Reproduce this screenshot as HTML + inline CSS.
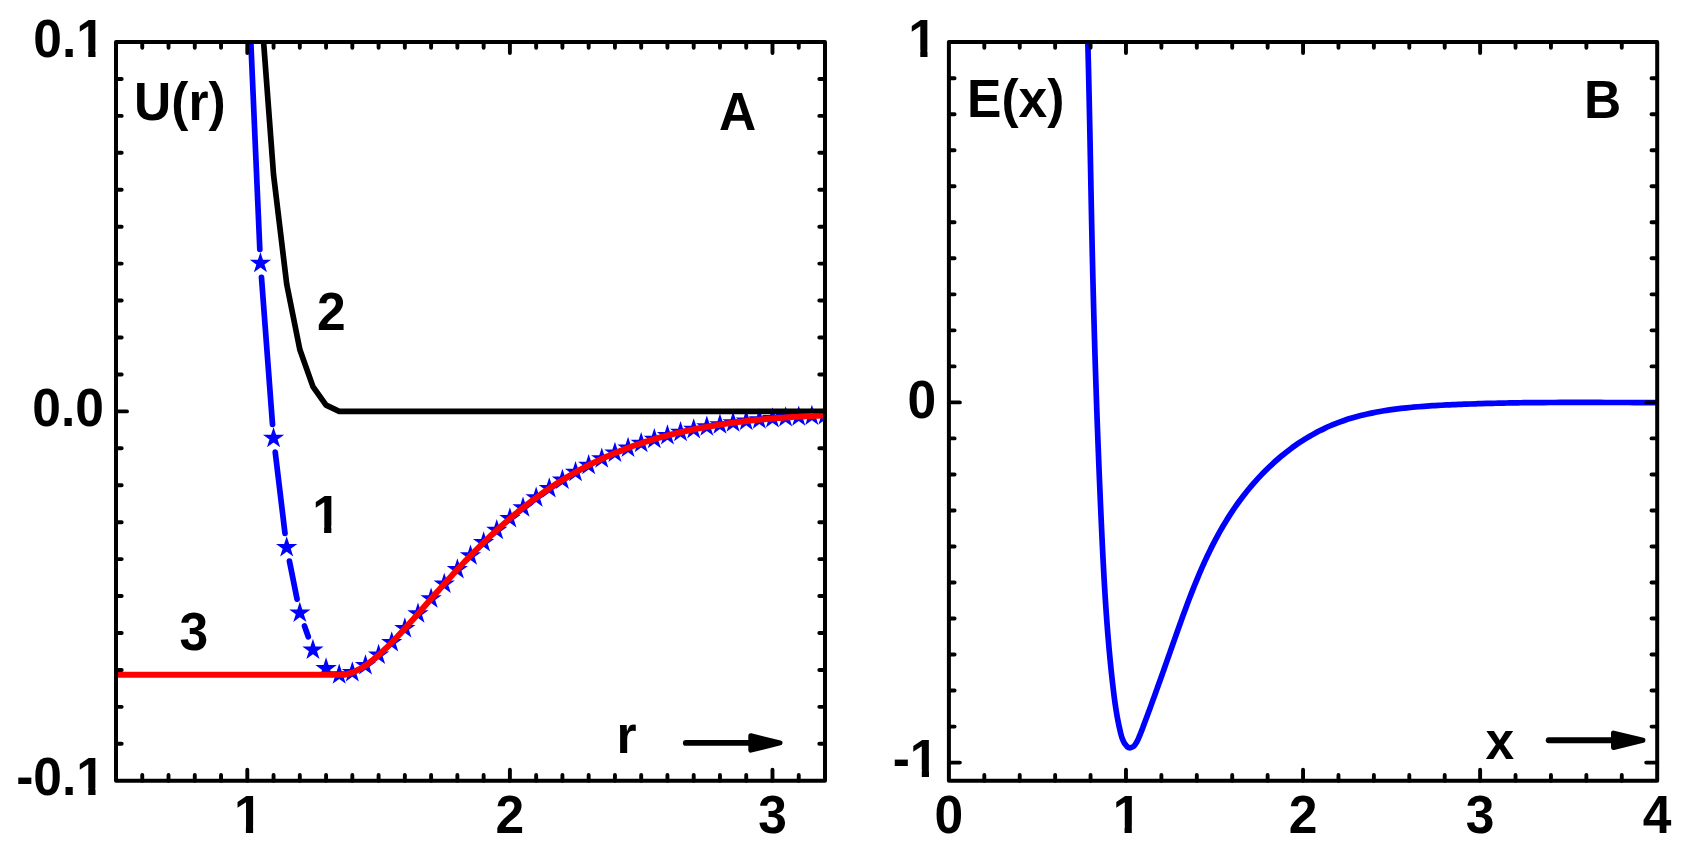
<!DOCTYPE html>
<html lang="en"><head><meta charset="utf-8"><title>U(r) and E(x)</title>
<style>html,body{margin:0;padding:0;background:#fff}body{width:1688px;height:852px;overflow:hidden}svg{display:block}</style>
</head><body>
<svg width="1688" height="852" viewBox="0 0 1688 852">
<defs>
<clipPath id="ca"><rect x="116.0" y="42.0" width="709.0" height="738.75"/></clipPath>
<clipPath id="cb"><rect x="948.9" y="42.0" width="708.3000000000001" height="738.75"/></clipPath>
</defs>
<rect width="1688" height="852" fill="#fff"/>
<g clip-path="url(#ca)">
<path d="M247.9 -26.01L259.82 249.3M261.47 277.25L272.51 424.31M275.23 452.17L285.01 533.47M289.44 561.09L297.06 599.13M304.49 626.06L308.27 636.76" fill="none" stroke="#0000ff" stroke-width="5.7" stroke-linecap="round"/>
<path d="M260.43 252.09L262.94 259.82L271.08 259.82L264.49 264.61L267.01 272.35L260.43 267.56L253.84 272.35L256.36 264.61L249.77 259.82L257.91 259.82ZM273.56 427.07L276.07 434.81L284.21 434.81L277.62 439.6L280.14 447.33L273.56 442.55L266.97 447.33L269.49 439.6L262.9 434.81L271.04 434.81ZM286.69 536.17L289.2 543.9L297.34 543.9L290.75 548.69L293.27 556.43L286.69 551.64L280.1 556.43L282.62 548.69L276.03 543.9L284.17 543.9ZM299.81 601.66L302.33 609.4L310.47 609.4L303.88 614.18L306.4 621.92L299.81 617.14L293.23 621.92L295.75 614.18L289.16 609.4L297.3 609.4ZM312.94 638.76L315.46 646.5L323.6 646.5L317.01 651.28L319.53 659.02L312.94 654.24L306.36 659.02L308.88 651.28L302.29 646.5L310.43 646.5ZM326.07 657.36L328.59 665.1L336.73 665.1L330.14 669.88L332.66 677.62L326.07 672.84L319.49 677.62L322.01 669.88L315.42 665.1L323.56 665.1ZM339.2 663.56L341.72 671.3L349.86 671.3L343.27 676.08L345.79 683.82L339.2 679.04L332.62 683.82L335.13 676.08L328.55 671.3L336.69 671.3ZM352.33 661.31L354.85 669.05L362.99 669.05L356.4 673.83L358.92 681.57L352.33 676.79L345.75 681.57L348.26 673.83L341.68 669.05L349.82 669.05ZM365.46 654.18L367.98 661.92L376.11 661.92L369.53 666.7L372.05 674.44L365.46 669.66L358.88 674.44L361.39 666.7L354.81 661.92L362.95 661.92ZM378.59 643.84L381.11 651.58L389.24 651.58L382.66 656.36L385.18 664.1L378.59 659.32L372.01 664.1L374.52 656.36L367.94 651.58L376.08 651.58ZM391.72 631.27L394.24 639.01L402.37 639.01L395.79 643.79L398.31 651.53L391.72 646.75L385.14 651.53L387.65 643.79L381.07 639.01L389.21 639.01ZM404.85 617.3L407.37 625.03L415.5 625.04L408.92 629.82L411.44 637.56L404.85 632.77L398.27 637.56L400.78 629.82L394.2 625.04L402.34 625.03ZM417.98 602.56L420.5 610.3L428.63 610.3L422.05 615.08L424.56 622.82L417.98 618.04L411.4 622.82L413.91 615.08L407.33 610.3L415.47 610.3ZM431.11 587.56L433.63 595.3L441.76 595.3L435.18 600.08L437.69 607.82L431.11 603.04L424.53 607.82L427.04 600.08L420.46 595.3L428.6 595.3ZM444.24 572.7L446.76 580.44L454.89 580.44L448.31 585.22L450.82 592.96L444.24 588.18L437.66 592.96L440.17 585.22L433.59 580.44L441.73 580.44ZM457.37 558.26L459.89 566L468.02 566L461.44 570.78L463.95 578.52L457.37 573.74L450.79 578.52L453.3 570.78L446.72 566L454.86 566ZM470.5 544.43L473.01 552.17L481.15 552.17L474.57 556.96L477.08 564.7L470.5 559.91L463.92 564.7L466.43 556.96L459.85 552.17L467.99 552.17ZM483.63 531.32L486.14 539.06L494.28 539.06L487.7 543.84L490.21 551.58L483.63 546.8L477.05 551.58L479.56 543.84L472.98 539.06L481.11 539.06ZM496.76 518.95L499.27 526.69L507.41 526.69L500.83 531.47L503.34 539.21L496.76 534.43L490.18 539.21L492.69 531.47L486.11 526.69L494.24 526.69ZM509.89 507.35L512.4 515.08L520.54 515.08L513.96 519.87L516.47 527.61L509.89 522.82L503.31 527.61L505.82 519.87L499.24 515.08L507.37 515.08ZM523.02 496.52L525.53 504.26L533.67 504.26L527.09 509.05L529.6 516.79L523.02 512L516.44 516.79L518.95 509.05L512.37 504.26L520.5 504.26ZM536.15 486.49L538.66 494.23L546.8 494.23L540.22 499.01L542.73 506.75L536.15 501.97L529.56 506.75L532.08 499.01L525.5 494.23L533.63 494.23ZM549.28 477.23L551.79 484.97L559.93 484.97L553.35 489.75L555.86 497.49L549.28 492.71L542.69 497.49L545.21 489.75L538.63 484.97L546.76 484.97ZM562.41 468.74L564.92 476.48L573.06 476.48L566.48 481.27L568.99 489.01L562.41 484.22L555.82 489.01L558.34 481.27L551.76 476.48L559.89 476.48ZM575.54 461L578.05 468.74L586.19 468.74L579.61 473.52L582.12 481.26L575.54 476.48L568.95 481.26L571.47 473.52L564.89 468.74L573.02 468.74ZM588.67 453.96L591.18 461.7L599.32 461.7L592.74 466.49L595.25 474.22L588.67 469.44L582.08 474.22L584.6 466.49L578.01 461.7L586.15 461.7ZM601.8 447.6L604.31 455.34L612.45 455.34L605.87 460.12L608.38 467.86L601.8 463.07L595.21 467.86L597.73 460.12L591.14 455.34L599.28 455.34ZM614.93 441.85L617.44 449.59L625.58 449.59L618.99 454.37L621.51 462.11L614.93 457.33L608.34 462.11L610.86 454.37L604.27 449.59L612.41 449.59ZM628.06 436.69L630.57 444.43L638.71 444.43L632.12 449.21L634.64 456.95L628.06 452.17L621.47 456.95L623.99 449.21L617.4 444.43L625.54 444.43ZM641.19 432.06L643.7 439.8L651.84 439.8L645.25 444.58L647.77 452.32L641.19 447.54L634.6 452.32L637.12 444.58L630.53 439.8L638.67 439.8ZM654.31 427.93L656.83 435.66L664.97 435.66L658.38 440.45L660.9 448.19L654.31 443.4L647.73 448.19L650.25 440.45L643.66 435.66L651.8 435.66ZM667.44 424.25L669.96 431.99L678.1 431.99L671.51 436.77L674.03 444.51L667.44 439.73L660.86 444.51L663.38 436.77L656.79 431.99L664.93 431.99ZM680.57 421L683.09 428.73L691.23 428.73L684.64 433.52L687.16 441.26L680.57 436.47L673.99 441.26L676.51 433.52L669.92 428.73L678.06 428.73ZM693.7 418.13L696.22 425.87L704.36 425.87L697.77 430.65L700.29 438.39L693.7 433.6L687.12 438.39L689.63 430.65L683.05 425.87L691.19 425.87ZM706.83 415.61L709.35 423.35L717.49 423.35L710.9 428.13L713.42 435.87L706.83 431.09L700.25 435.87L702.76 428.13L696.18 423.35L704.32 423.35ZM719.96 413.41L722.48 421.15L730.61 421.15L724.03 425.94L726.55 433.67L719.96 428.89L713.38 433.67L715.89 425.94L709.31 421.15L717.45 421.15ZM733.09 411.51L735.61 419.25L743.74 419.25L737.16 424.03L739.68 431.77L733.09 426.99L726.51 431.77L729.02 424.03L722.44 419.25L730.58 419.25ZM746.22 409.87L748.74 417.61L756.87 417.61L750.29 422.39L752.81 430.13L746.22 425.35L739.64 430.13L742.15 422.39L735.57 417.61L743.71 417.61ZM759.35 408.47L761.87 416.21L770 416.21L763.42 420.99L765.94 428.73L759.35 423.94L752.77 428.73L755.28 420.99L748.7 416.21L756.84 416.21ZM772.48 407.28L775 415.02L783.13 415.02L776.55 419.8L779.06 427.54L772.48 422.76L765.9 427.54L768.41 419.8L761.83 415.02L769.97 415.02ZM785.61 406.28L788.13 414.02L796.26 414.02L789.68 418.8L792.19 426.54L785.61 421.76L779.03 426.54L781.54 418.8L774.96 414.02L783.1 414.02ZM798.74 405.46L801.26 413.19L809.39 413.19L802.81 417.98L805.32 425.72L798.74 420.93L792.16 425.72L794.67 417.98L788.09 413.19L796.23 413.19ZM811.87 404.78L814.39 412.52L822.52 412.52L815.94 417.3L818.45 425.04L811.87 420.26L805.29 425.04L807.8 417.3L801.22 412.52L809.36 412.52ZM825 404.25L827.51 411.98L835.65 411.98L829.07 416.77L831.58 424.51L825 419.72L818.42 424.51L820.93 416.77L814.35 411.98L822.49 411.98Z" fill="#0000ff"/>
<path d="M247.3 -303.38 L260.43 -0.1 L273.56 174.89 L286.69 283.98 L299.81 349.48 L312.94 386.58 L326.07 405.18 L339.2 411.38 L825 411.38" fill="none" stroke="#000" stroke-width="5.7" stroke-linejoin="round"/>
<path d="M116 674.8C151.01 674.8 290.51 674.8 326.07 674.8C361.63 674.8 328.26 674.8 329.36 674.8C330.45 674.8 331.54 674.8 332.64 674.8C333.73 674.8 334.83 674.8 335.92 674.8C337.02 674.8 338.11 674.8 339.2 674.8C340.3 674.8 341.39 674.84 342.49 674.8C343.58 674.76 344.67 674.73 345.77 674.55C346.86 674.36 347.96 674.03 349.05 673.7C350.15 673.36 351.24 672.98 352.33 672.55C353.43 672.12 354.52 671.65 355.62 671.13C356.71 670.62 357.8 670.06 358.9 669.46C359.99 668.86 361.09 668.22 362.18 667.55C363.27 666.88 364.37 666.17 365.46 665.42C366.56 664.68 367.65 663.9 368.75 663.1C369.84 662.29 370.93 661.45 372.03 660.59C373.12 659.72 374.22 658.83 375.31 657.91C376.4 656.99 377.5 656.04 378.59 655.08C379.69 654.11 380.78 653.12 381.87 652.11C382.97 651.1 384.06 650.07 385.16 649.02C386.25 647.97 387.35 646.9 388.44 645.81C389.53 644.73 390.63 643.62 391.72 642.51C392.82 641.39 393.91 640.26 395 639.12C396.1 637.98 397.19 636.82 398.29 635.65C399.38 634.49 400.48 633.31 401.57 632.12C402.66 630.94 403.76 629.74 404.85 628.54C405.95 627.33 407.04 626.12 408.13 624.9C409.23 623.68 410.32 622.46 411.42 621.23C412.51 620 413.6 618.76 414.7 617.53C415.79 616.29 416.89 615.04 417.98 613.8C419.08 612.55 420.17 611.31 421.26 610.06C422.36 608.81 423.45 607.56 424.55 606.31C425.64 605.05 426.73 603.8 427.83 602.55C428.92 601.3 430.02 600.05 431.11 598.8C432.21 597.55 433.3 596.3 434.39 595.06C435.49 593.81 436.58 592.57 437.68 591.33C438.77 590.09 439.86 588.85 440.96 587.62C442.05 586.39 443.15 585.16 444.24 583.93C445.33 582.71 446.43 581.49 447.52 580.27C448.62 579.06 449.71 577.85 450.81 576.65C451.9 575.44 452.99 574.24 454.09 573.05C455.18 571.86 456.28 570.67 457.37 569.49C458.46 568.31 459.56 567.14 460.65 565.97C461.75 564.81 462.84 563.65 463.94 562.5C465.03 561.34 466.12 560.2 467.22 559.06C468.31 557.92 469.41 556.79 470.5 555.67C471.59 554.55 472.69 553.43 473.78 552.32C474.88 551.21 475.97 550.11 477.06 549.02C478.16 547.93 479.25 546.84 480.35 545.76C481.44 544.69 482.54 543.62 483.63 542.55C484.72 541.49 485.82 540.44 486.91 539.39C488.01 538.34 489.1 537.3 490.19 536.27C491.29 535.24 492.38 534.22 493.48 533.2C494.57 532.19 495.67 531.18 496.76 530.18C497.85 529.18 498.95 528.19 500.04 527.21C501.14 526.23 502.23 525.25 503.32 524.28C504.42 523.32 505.51 522.36 506.61 521.41C507.7 520.46 508.79 519.51 509.89 518.58C510.98 517.64 512.08 516.72 513.17 515.8C514.27 514.88 515.36 513.97 516.45 513.07C517.55 512.17 518.64 511.27 519.74 510.39C520.83 509.5 521.92 508.62 523.02 507.76C524.11 506.89 525.21 506.03 526.3 505.17C527.4 504.32 528.49 503.48 529.58 502.64C530.68 501.8 531.77 500.97 532.87 500.15C533.96 499.33 535.05 498.52 536.15 497.72C537.24 496.92 538.34 496.12 539.43 495.33C540.52 494.54 541.62 493.77 542.71 492.99C543.81 492.22 544.9 491.46 546 490.7C547.09 489.95 548.18 489.2 549.28 488.46C550.37 487.72 551.47 486.99 552.56 486.27C553.65 485.55 554.75 484.83 555.84 484.12C556.94 483.42 558.03 482.72 559.12 482.03C560.22 481.33 561.31 480.65 562.41 479.97C563.5 479.3 564.6 478.63 565.69 477.97C566.78 477.31 567.88 476.66 568.97 476.01C570.07 475.36 571.16 474.73 572.25 474.1C573.35 473.47 574.44 472.84 575.54 472.23C576.63 471.61 577.73 471 578.82 470.4C579.91 469.8 581.01 469.21 582.1 468.62C583.2 468.04 584.29 467.46 585.38 466.89C586.48 466.31 587.57 465.75 588.67 465.19C589.76 464.63 590.85 464.08 591.95 463.54C593.04 463 594.14 462.46 595.23 461.93C596.33 461.4 597.42 460.87 598.51 460.36C599.61 459.84 600.7 459.33 601.8 458.82C602.89 458.32 603.98 457.82 605.08 457.33C606.17 456.84 607.27 456.36 608.36 455.88C609.46 455.4 610.55 454.93 611.64 454.46C612.74 453.99 613.83 453.53 614.93 453.08C616.02 452.63 617.11 452.18 618.21 451.74C619.3 451.29 620.4 450.86 621.49 450.43C622.58 450 623.68 449.57 624.77 449.15C625.87 448.74 626.96 448.32 628.06 447.91C629.15 447.51 630.24 447.11 631.34 446.71C632.43 446.31 633.53 445.92 634.62 445.54C635.71 445.15 636.81 444.77 637.9 444.39C639 444.02 640.09 443.65 641.19 443.29C642.28 442.92 643.37 442.56 644.47 442.21C645.56 441.85 646.66 441.5 647.75 441.16C648.84 440.82 649.94 440.48 651.03 440.14C652.13 439.81 653.22 439.48 654.31 439.15C655.41 438.83 656.5 438.51 657.6 438.19C658.69 437.88 659.79 437.57 660.88 437.26C661.97 436.95 663.07 436.65 664.16 436.36C665.26 436.06 666.35 435.77 667.44 435.48C668.54 435.19 669.63 434.9 670.73 434.63C671.82 434.35 672.92 434.07 674.01 433.8C675.1 433.53 676.2 433.26 677.29 433C678.39 432.74 679.48 432.48 680.57 432.22C681.67 431.97 682.76 431.72 683.86 431.47C684.95 431.22 686.04 430.98 687.14 430.74C688.23 430.5 689.33 430.27 690.42 430.04C691.52 429.8 692.61 429.58 693.7 429.35C694.8 429.13 695.89 428.91 696.99 428.69C698.08 428.47 699.17 428.26 700.27 428.05C701.36 427.84 702.46 427.64 703.55 427.43C704.65 427.23 705.74 427.03 706.83 426.84C707.93 426.64 709.02 426.45 710.12 426.26C711.21 426.07 712.3 425.88 713.4 425.7C714.49 425.52 715.59 425.34 716.68 425.16C717.77 424.98 718.87 424.81 719.96 424.64C721.06 424.47 722.15 424.3 723.25 424.14C724.34 423.97 725.43 423.81 726.53 423.65C727.62 423.49 728.72 423.34 729.81 423.19C730.9 423.03 732 422.88 733.09 422.74C734.19 422.59 735.28 422.44 736.37 422.3C737.47 422.16 738.56 422.02 739.66 421.88C740.75 421.75 741.85 421.61 742.94 421.48C744.03 421.35 745.13 421.22 746.22 421.09C747.32 420.97 748.41 420.84 749.5 420.72C750.6 420.6 751.69 420.48 752.79 420.37C753.88 420.25 754.98 420.13 756.07 420.02C757.16 419.91 758.26 419.8 759.35 419.69C760.45 419.58 761.54 419.48 762.63 419.38C763.73 419.27 764.82 419.17 765.92 419.07C767.01 418.97 768.1 418.88 769.2 418.78C770.29 418.69 771.39 418.59 772.48 418.5C773.58 418.41 774.67 418.32 775.76 418.24C776.86 418.15 777.95 418.07 779.05 417.98C780.14 417.9 781.23 417.82 782.33 417.74C783.42 417.66 784.52 417.58 785.61 417.51C786.71 417.43 787.8 417.36 788.89 417.28C789.99 417.21 791.08 417.14 792.18 417.07C793.27 417 794.36 416.94 795.46 416.87C796.55 416.81 797.65 416.74 798.74 416.68C799.83 416.62 800.93 416.56 802.02 416.5C803.12 416.44 804.21 416.38 805.31 416.33C806.4 416.27 807.49 416.22 808.59 416.16C809.68 416.11 810.78 416.06 811.87 416.01C812.96 415.96 814.06 415.91 815.15 415.86C816.25 415.81 817.34 415.77 818.44 415.72C819.53 415.68 820.62 415.64 821.72 415.59C822.81 415.55 824.45 415.49 825 415.47" fill="none" stroke="#ff0000" stroke-width="6"/>
</g>
<g clip-path="url(#cb)">
<path d="M1086.58 0.04C1086.61 0.99 1086.7 3.82 1086.76 5.71C1086.82 7.6 1086.88 9.49 1086.94 11.39C1086.99 13.28 1087.05 15.17 1087.11 17.06C1087.16 18.95 1087.22 20.85 1087.28 22.74C1087.33 24.63 1087.39 26.52 1087.44 28.42C1087.49 30.31 1087.55 32.2 1087.6 34.1C1087.65 35.99 1087.7 37.89 1087.75 39.78C1087.81 41.67 1087.86 43.57 1087.91 45.46C1087.96 47.36 1088.01 49.25 1088.05 51.15C1088.1 53.04 1088.15 54.94 1088.2 56.83C1088.25 58.73 1088.29 60.63 1088.34 62.52C1088.39 64.42 1088.43 66.31 1088.48 68.21C1088.52 70.11 1088.57 72 1088.61 73.9C1088.66 75.8 1088.7 77.69 1088.75 79.59C1088.79 81.49 1088.83 83.39 1088.88 85.28C1088.92 87.18 1088.96 89.08 1089 90.98C1089.05 92.87 1089.09 94.77 1089.13 96.67C1089.17 98.57 1089.21 100.46 1089.25 102.36C1089.29 104.26 1089.33 106.16 1089.37 108.06C1089.41 109.96 1089.45 111.85 1089.49 113.75C1089.53 115.65 1089.57 117.55 1089.61 119.45C1089.65 121.35 1089.69 123.25 1089.73 125.15C1089.76 127.05 1089.8 128.94 1089.84 130.84C1089.88 132.74 1089.92 134.64 1089.95 136.54C1089.99 138.44 1090.03 140.34 1090.07 142.24C1090.1 144.14 1090.14 146.04 1090.18 147.94C1090.22 149.84 1090.25 151.73 1090.29 153.63C1090.33 155.53 1090.36 157.43 1090.4 159.33C1090.44 161.23 1090.47 163.13 1090.51 165.03C1090.55 166.93 1090.58 168.83 1090.62 170.73C1090.66 172.63 1090.69 174.53 1090.73 176.43C1090.77 178.33 1090.8 180.23 1090.84 182.12C1090.88 184.02 1090.91 185.92 1090.95 187.82C1090.99 189.72 1091.03 191.62 1091.06 193.52C1091.1 195.42 1091.14 197.32 1091.17 199.22C1091.21 201.11 1091.25 203.01 1091.29 204.91C1091.32 206.81 1091.36 208.71 1091.4 210.61C1091.44 212.51 1091.48 214.41 1091.51 216.3C1091.55 218.2 1091.59 220.1 1091.63 222C1091.67 223.9 1091.71 225.79 1091.75 227.69C1091.79 229.59 1091.83 231.49 1091.87 233.39C1091.91 235.28 1091.95 237.18 1091.99 239.08C1092.03 240.97 1092.07 242.87 1092.11 244.77C1092.15 246.67 1092.19 248.56 1092.23 250.46C1092.28 252.36 1092.32 254.25 1092.36 256.15C1092.4 258.04 1092.45 259.94 1092.49 261.84C1092.54 263.73 1092.58 265.63 1092.62 267.52C1092.67 269.42 1092.71 271.31 1092.76 273.21C1092.8 275.1 1092.85 277 1092.9 278.89C1092.94 280.79 1092.99 282.68 1093.04 284.58C1093.08 286.47 1093.13 288.37 1093.18 290.26C1093.23 292.15 1093.27 294.05 1093.32 295.94C1093.37 297.84 1093.42 299.73 1093.47 301.62C1093.52 303.52 1093.57 305.41 1093.62 307.3C1093.67 309.2 1093.72 311.09 1093.77 312.98C1093.83 314.88 1093.88 316.77 1093.93 318.66C1093.98 320.56 1094.04 322.45 1094.09 324.34C1094.14 326.24 1094.2 328.13 1094.25 330.02C1094.3 331.91 1094.36 333.81 1094.41 335.7C1094.47 337.59 1094.52 339.48 1094.58 341.38C1094.63 343.27 1094.69 345.16 1094.75 347.06C1094.8 348.95 1094.86 350.84 1094.92 352.73C1094.98 354.63 1095.04 356.52 1095.09 358.41C1095.15 360.3 1095.21 362.2 1095.27 364.09C1095.33 365.98 1095.39 367.87 1095.45 369.77C1095.51 371.66 1095.57 373.55 1095.63 375.44C1095.69 377.34 1095.76 379.23 1095.82 381.12C1095.88 383.01 1095.94 384.91 1096.01 386.8C1096.07 388.69 1096.13 390.59 1096.2 392.48C1096.26 394.37 1096.32 396.26 1096.39 398.16C1096.45 400.05 1096.52 401.94 1096.58 403.84C1096.65 405.73 1096.72 407.62 1096.78 409.52C1096.85 411.41 1096.92 413.3 1096.98 415.2C1097.05 417.09 1097.12 418.99 1097.19 420.88C1097.26 422.77 1097.33 424.67 1097.4 426.56C1097.47 428.46 1097.54 430.35 1097.61 432.24C1097.68 434.14 1097.75 436.03 1097.82 437.93C1097.89 439.82 1097.96 441.72 1098.03 443.61C1098.11 445.51 1098.18 447.4 1098.25 449.3C1098.32 451.2 1098.4 453.09 1098.47 454.99C1098.55 456.88 1098.62 458.78 1098.7 460.67C1098.77 462.57 1098.85 464.47 1098.92 466.36C1099 468.26 1099.07 470.16 1099.15 472.06C1099.23 473.95 1099.31 475.85 1099.38 477.75C1099.46 479.65 1099.54 481.54 1099.62 483.44C1099.7 485.34 1099.78 487.24 1099.86 489.14C1099.94 491.04 1100.02 492.93 1100.1 494.83C1100.18 496.73 1100.26 498.63 1100.34 500.53C1100.42 502.43 1100.5 504.33 1100.59 506.23C1100.67 508.13 1100.75 510.03 1100.84 511.93C1100.92 513.84 1101 515.74 1101.09 517.64C1101.17 519.54 1101.26 521.44 1101.34 523.34C1101.43 525.25 1101.51 527.15 1101.6 529.05C1101.69 530.95 1101.78 532.86 1101.86 534.76C1101.95 536.66 1102.04 538.57 1102.13 540.47C1102.22 542.37 1102.31 544.28 1102.4 546.18C1102.49 548.08 1102.59 549.99 1102.68 551.89C1102.78 553.79 1102.87 555.7 1102.97 557.6C1103.06 559.5 1103.16 561.4 1103.26 563.31C1103.36 565.21 1103.46 567.11 1103.56 569.01C1103.66 570.92 1103.77 572.82 1103.87 574.72C1103.98 576.62 1104.08 578.52 1104.19 580.42C1104.3 582.32 1104.41 584.22 1104.52 586.12C1104.64 588.02 1104.75 589.92 1104.87 591.82C1104.98 593.71 1105.1 595.61 1105.22 597.51C1105.34 599.4 1105.46 601.3 1105.59 603.19C1105.71 605.09 1105.84 606.98 1105.97 608.88C1106.09 610.77 1106.23 612.66 1106.36 614.56C1106.49 616.45 1106.63 618.34 1106.77 620.23C1106.91 622.12 1107.05 624.01 1107.19 625.89C1107.34 627.78 1107.48 629.67 1107.63 631.55C1107.78 633.44 1107.94 635.32 1108.09 637.2C1108.25 639.09 1108.41 640.97 1108.57 642.85C1108.73 644.73 1108.89 646.61 1109.06 648.49C1109.23 650.36 1109.4 652.24 1109.57 654.11C1109.75 655.99 1109.92 657.86 1110.11 659.73C1110.29 661.6 1110.47 663.47 1110.66 665.34C1110.85 667.21 1111.04 669.08 1111.23 670.94C1111.43 672.81 1111.63 674.67 1111.83 676.53C1112.03 678.39 1112.24 680.25 1112.45 682.11C1112.66 683.97 1112.87 685.82 1113.09 687.68C1113.31 689.53 1113.53 691.38 1113.76 693.23C1113.99 695.09 1114.22 696.93 1114.46 698.79C1114.71 700.64 1114.96 702.49 1115.22 704.34C1115.49 706.2 1115.77 708.05 1116.06 709.92C1116.35 711.78 1116.66 713.64 1116.99 715.52C1117.32 717.39 1117.67 719.27 1118.04 721.15C1118.41 723.04 1118.8 724.94 1119.22 726.84C1119.64 728.75 1120.06 730.68 1120.55 732.59C1121.04 734.5 1121.49 736.48 1122.17 738.29C1122.85 740.11 1123.56 741.95 1124.61 743.49C1125.66 745.03 1126.99 747.06 1128.48 747.56C1129.96 748.06 1132.1 747.45 1133.51 746.49C1134.91 745.53 1135.95 743.47 1136.92 741.79C1137.89 740.11 1138.59 738.18 1139.35 736.4C1140.11 734.62 1140.79 732.86 1141.48 731.1C1142.17 729.33 1142.82 727.58 1143.48 725.82C1144.15 724.06 1144.81 722.3 1145.46 720.54C1146.12 718.78 1146.78 717.02 1147.43 715.25C1148.08 713.49 1148.74 711.72 1149.38 709.95C1150.03 708.18 1150.68 706.41 1151.33 704.64C1151.97 702.87 1152.62 701.1 1153.26 699.32C1153.9 697.55 1154.55 695.77 1155.19 694C1155.83 692.22 1156.46 690.44 1157.1 688.66C1157.74 686.88 1158.38 685.1 1159.01 683.32C1159.65 681.54 1160.28 679.76 1160.92 677.97C1161.55 676.19 1162.18 674.4 1162.82 672.62C1163.45 670.83 1164.08 669.05 1164.71 667.26C1165.35 665.47 1165.98 663.68 1166.61 661.9C1167.24 660.11 1167.87 658.32 1168.5 656.53C1169.13 654.74 1169.76 652.94 1170.39 651.15C1171.03 649.36 1171.66 647.57 1172.29 645.78C1172.92 643.98 1173.55 642.19 1174.19 640.4C1174.82 638.6 1175.45 636.81 1176.09 635.01C1176.72 633.22 1177.35 631.42 1177.99 629.63C1178.63 627.84 1179.27 626.04 1179.91 624.25C1180.55 622.46 1181.19 620.67 1181.84 618.87C1182.49 617.08 1183.14 615.29 1183.79 613.51C1184.45 611.72 1185.1 609.93 1185.77 608.15C1186.43 606.36 1187.09 604.58 1187.76 602.8C1188.43 601.02 1189.11 599.24 1189.79 597.46C1190.47 595.69 1191.16 593.91 1191.85 592.14C1192.55 590.37 1193.24 588.6 1193.95 586.84C1194.66 585.08 1195.37 583.32 1196.09 581.56C1196.81 579.8 1197.54 578.05 1198.27 576.3C1199.01 574.56 1199.75 572.81 1200.5 571.07C1201.26 569.33 1202.02 567.6 1202.79 565.87C1203.56 564.14 1204.34 562.41 1205.13 560.69C1205.92 558.97 1206.72 557.26 1207.53 555.55C1208.34 553.84 1209.16 552.14 1209.99 550.44C1210.82 548.74 1211.66 547.05 1212.52 545.37C1213.37 543.69 1214.24 542.01 1215.12 540.34C1215.99 538.67 1216.89 537 1217.79 535.35C1218.69 533.69 1219.61 532.04 1220.54 530.4C1221.47 528.76 1222.42 527.12 1223.38 525.5C1224.34 523.87 1225.31 522.25 1226.3 520.64C1227.28 519.03 1228.29 517.43 1229.31 515.84C1230.32 514.25 1231.36 512.67 1232.41 511.09C1233.46 509.52 1234.52 507.95 1235.61 506.4C1236.69 504.84 1237.79 503.3 1238.91 501.76C1240.02 500.23 1241.16 498.7 1242.31 497.18C1243.46 495.67 1244.63 494.16 1245.82 492.67C1247.01 491.18 1248.21 489.7 1249.43 488.23C1250.65 486.76 1251.89 485.3 1253.14 483.86C1254.4 482.42 1255.67 480.99 1256.96 479.57C1258.24 478.15 1259.55 476.75 1260.86 475.36C1262.18 473.98 1263.52 472.61 1264.87 471.25C1266.22 469.89 1267.58 468.55 1268.96 467.23C1270.34 465.91 1271.74 464.6 1273.15 463.31C1274.56 462.02 1275.98 460.75 1277.42 459.5C1278.86 458.24 1280.32 457.01 1281.79 455.79C1283.26 454.58 1284.74 453.38 1286.23 452.21C1287.73 451.03 1289.24 449.87 1290.76 448.74C1292.29 447.61 1293.83 446.49 1295.38 445.4C1296.93 444.31 1298.49 443.24 1300.07 442.19C1301.64 441.15 1303.23 440.12 1304.83 439.12C1306.44 438.12 1308.05 437.14 1309.68 436.19C1311.3 435.24 1312.94 434.31 1314.59 433.41C1316.25 432.51 1317.91 431.63 1319.58 430.78C1321.26 429.93 1322.94 429.1 1324.64 428.3C1326.34 427.51 1328.04 426.74 1329.76 425.99C1331.48 425.25 1333.21 424.54 1334.95 423.85C1336.69 423.16 1338.44 422.5 1340.2 421.86C1341.96 421.22 1343.73 420.61 1345.51 420.02C1347.29 419.43 1349.08 418.87 1350.87 418.33C1352.67 417.79 1354.47 417.27 1356.29 416.77C1358.1 416.27 1359.92 415.8 1361.75 415.34C1363.57 414.89 1365.41 414.46 1367.25 414.04C1369.09 413.63 1370.94 413.23 1372.79 412.86C1374.65 412.48 1376.51 412.12 1378.37 411.78C1380.24 411.44 1382.11 411.11 1383.99 410.81C1385.86 410.5 1387.74 410.21 1389.63 409.93C1391.51 409.65 1393.4 409.39 1395.3 409.14C1397.19 408.89 1399.09 408.66 1400.99 408.43C1402.89 408.21 1404.79 408 1406.69 407.8C1408.6 407.61 1410.51 407.42 1412.42 407.24C1414.33 407.07 1416.24 406.9 1418.15 406.75C1420.07 406.59 1421.98 406.44 1423.89 406.3C1425.81 406.16 1427.73 406.03 1429.64 405.91C1431.56 405.78 1433.47 405.66 1435.39 405.55C1437.3 405.44 1439.22 405.33 1441.13 405.23C1443.05 405.13 1444.96 405.04 1446.87 404.94C1448.78 404.85 1450.69 404.76 1452.6 404.67C1454.51 404.59 1456.41 404.5 1458.32 404.42C1460.22 404.34 1462.13 404.26 1464.03 404.19C1465.93 404.12 1467.83 404.05 1469.73 403.98C1471.63 403.91 1473.53 403.84 1475.42 403.78C1477.32 403.72 1479.21 403.66 1481.11 403.6C1483 403.55 1484.89 403.49 1486.79 403.44C1488.68 403.39 1490.57 403.34 1492.46 403.29C1494.35 403.25 1496.24 403.2 1498.13 403.16C1500.02 403.12 1501.9 403.08 1503.79 403.04C1505.68 403 1507.56 402.97 1509.45 402.93C1511.33 402.9 1513.22 402.87 1515.1 402.84C1516.99 402.81 1518.87 402.78 1520.76 402.76C1522.64 402.73 1524.53 402.71 1526.41 402.69C1528.29 402.67 1530.17 402.65 1532.06 402.63C1533.94 402.61 1535.82 402.59 1537.71 402.58C1539.59 402.56 1541.47 402.55 1543.36 402.54C1545.24 402.52 1547.12 402.51 1549 402.5C1550.89 402.49 1552.77 402.49 1554.66 402.48C1556.54 402.47 1558.42 402.46 1560.31 402.46C1562.19 402.45 1564.08 402.45 1565.96 402.45C1567.85 402.44 1569.73 402.44 1571.62 402.44C1573.51 402.44 1575.4 402.44 1577.28 402.44C1579.17 402.44 1581.06 402.44 1582.95 402.44C1584.84 402.44 1586.73 402.44 1588.62 402.45C1590.51 402.45 1592.41 402.45 1594.3 402.46C1596.19 402.46 1598.09 402.46 1599.98 402.47C1601.88 402.47 1603.78 402.47 1605.67 402.48C1607.57 402.48 1609.47 402.49 1611.37 402.49C1613.28 402.49 1615.18 402.5 1617.08 402.5C1618.99 402.51 1620.89 402.51 1622.8 402.51C1624.71 402.52 1626.61 402.52 1628.52 402.52C1630.44 402.53 1632.35 402.53 1634.26 402.53C1636.18 402.53 1638.09 402.53 1640.01 402.54C1641.93 402.54 1643.85 402.54 1645.77 402.54C1647.69 402.54 1649.62 402.54 1651.54 402.53C1653.47 402.53 1656.36 402.53 1657.33 402.53" fill="none" stroke="#0000ff" stroke-width="5.7" stroke-linejoin="round"/>
</g>
<path d="M247.3 780.75v-11.0M247.3 42v11.0M509.89 780.75v-11.0M509.89 42v11.0M772.48 780.75v-11.0M772.48 42v11.0M142.26 780.75v-5.7M142.26 42v5.7M168.52 780.75v-5.7M168.52 42v5.7M194.78 780.75v-5.7M194.78 42v5.7M221.04 780.75v-5.7M221.04 42v5.7M273.56 780.75v-5.7M273.56 42v5.7M299.81 780.75v-5.7M299.81 42v5.7M326.07 780.75v-5.7M326.07 42v5.7M352.33 780.75v-5.7M352.33 42v5.7M378.59 780.75v-5.7M378.59 42v5.7M404.85 780.75v-5.7M404.85 42v5.7M431.11 780.75v-5.7M431.11 42v5.7M457.37 780.75v-5.7M457.37 42v5.7M483.63 780.75v-5.7M483.63 42v5.7M536.15 780.75v-5.7M536.15 42v5.7M562.41 780.75v-5.7M562.41 42v5.7M588.67 780.75v-5.7M588.67 42v5.7M614.93 780.75v-5.7M614.93 42v5.7M641.19 780.75v-5.7M641.19 42v5.7M667.44 780.75v-5.7M667.44 42v5.7M693.7 780.75v-5.7M693.7 42v5.7M719.96 780.75v-5.7M719.96 42v5.7M746.22 780.75v-5.7M746.22 42v5.7M798.74 780.75v-5.7M798.74 42v5.7M116 411.38h11.0M825 411.38h-11.0M116 743.81h5.7M825 743.81h-5.7M116 706.87h5.7M825 706.87h-5.7M116 669.94h5.7M825 669.94h-5.7M116 633h5.7M825 633h-5.7M116 596.06h5.7M825 596.06h-5.7M116 559.12h5.7M825 559.12h-5.7M116 522.19h5.7M825 522.19h-5.7M116 485.25h5.7M825 485.25h-5.7M116 448.31h5.7M825 448.31h-5.7M116 374.44h5.7M825 374.44h-5.7M116 337.5h5.7M825 337.5h-5.7M116 300.56h5.7M825 300.56h-5.7M116 263.62h5.7M825 263.62h-5.7M116 226.69h5.7M825 226.69h-5.7M116 189.75h5.7M825 189.75h-5.7M116 152.81h5.7M825 152.81h-5.7M116 115.88h5.7M825 115.88h-5.7M116 78.94h5.7M825 78.94h-5.7" fill="none" stroke="#000" stroke-width="3.9" stroke-linecap="round"/>
<rect x="116.0" y="42.0" width="709" height="738.75" fill="none" stroke="#000" stroke-width="4.0" stroke-linejoin="round"/>
<path d="M1125.97 780.75v-11.0M1125.97 42v11.0M1303.05 780.75v-11.0M1303.05 42v11.0M1480.12 780.75v-11.0M1480.12 42v11.0M984.31 780.75v-5.7M984.31 42v5.7M1019.73 780.75v-5.7M1019.73 42v5.7M1055.14 780.75v-5.7M1055.14 42v5.7M1090.56 780.75v-5.7M1090.56 42v5.7M1161.39 780.75v-5.7M1161.39 42v5.7M1196.81 780.75v-5.7M1196.81 42v5.7M1232.22 780.75v-5.7M1232.22 42v5.7M1267.63 780.75v-5.7M1267.63 42v5.7M1338.47 780.75v-5.7M1338.47 42v5.7M1373.88 780.75v-5.7M1373.88 42v5.7M1409.3 780.75v-5.7M1409.3 42v5.7M1444.71 780.75v-5.7M1444.71 42v5.7M1515.54 780.75v-5.7M1515.54 42v5.7M1550.95 780.75v-5.7M1550.95 42v5.7M1586.37 780.75v-5.7M1586.37 42v5.7M1621.78 780.75v-5.7M1621.78 42v5.7M948.9 402.4h11.0M1657.2 402.4h-11.0M948.9 762.6h11.0M1657.2 762.6h-11.0M948.9 726.58h5.7M1657.2 726.58h-5.7M948.9 690.56h5.7M1657.2 690.56h-5.7M948.9 654.54h5.7M1657.2 654.54h-5.7M948.9 618.52h5.7M1657.2 618.52h-5.7M948.9 582.5h5.7M1657.2 582.5h-5.7M948.9 546.48h5.7M1657.2 546.48h-5.7M948.9 510.46h5.7M1657.2 510.46h-5.7M948.9 474.44h5.7M1657.2 474.44h-5.7M948.9 438.42h5.7M1657.2 438.42h-5.7M948.9 366.38h5.7M1657.2 366.38h-5.7M948.9 330.36h5.7M1657.2 330.36h-5.7M948.9 294.34h5.7M1657.2 294.34h-5.7M948.9 258.32h5.7M1657.2 258.32h-5.7M948.9 222.3h5.7M1657.2 222.3h-5.7M948.9 186.28h5.7M1657.2 186.28h-5.7M948.9 150.26h5.7M1657.2 150.26h-5.7M948.9 114.24h5.7M1657.2 114.24h-5.7M948.9 78.22h5.7M1657.2 78.22h-5.7" fill="none" stroke="#000" stroke-width="3.9" stroke-linecap="round"/>
<rect x="948.9" y="42.0" width="708.3" height="738.75" fill="none" stroke="#000" stroke-width="4.0" stroke-linejoin="round"/>
<path d="M685.85 742.9H752.8" fill="none" stroke="#000" stroke-width="5.9" stroke-linecap="round"/>
<path d="M750.8 735.7L780 742.9L750.8 750.1Z" fill="#000" stroke="#000" stroke-width="5" stroke-linejoin="round"/>
<path d="M1548.75 740.3H1615.5" fill="none" stroke="#000" stroke-width="5.9" stroke-linecap="round"/>
<path d="M1613.5 733.1L1642.9 740.3L1613.5 747.5Z" fill="#000" stroke="#000" stroke-width="5" stroke-linejoin="round"/>
<g font-family="'Liberation Sans', Arial, sans-serif" font-weight="bold" fill="#000">
<text transform="translate(105 56.8) scale(0.96 1)" text-anchor="end" font-size="53.7">0.1</text>
<text transform="translate(104 425.8) scale(0.96 1)" text-anchor="end" font-size="53.7">0.0</text>
<text transform="translate(105 795.3) scale(0.96 1)" text-anchor="end" font-size="53.7">-0.1</text>
<text transform="translate(248.3 833.2) scale(0.96 1)" text-anchor="middle" font-size="53.7">1</text>
<text transform="translate(509.89 833.2) scale(0.96 1)" text-anchor="middle" font-size="53.7">2</text>
<text transform="translate(772.48 833.2) scale(0.96 1)" text-anchor="middle" font-size="53.7">3</text>
<text transform="translate(134 120.2) scale(0.96 1)" font-size="53.7">U(r)</text>
<text transform="translate(719.1 129.8) scale(0.96 1)" font-size="53.7">A</text>
<text transform="translate(317 330.4) scale(0.96 1)" font-size="53.7">2</text>
<text transform="translate(312.2 532.6) scale(0.96 1)" font-size="53.7">1</text>
<text transform="translate(179.5 649.7) scale(0.96 1)" font-size="53.7">3</text>
<text transform="translate(616.5 753.1) scale(0.96 1)" font-size="53.7">r</text>
<text transform="translate(937 57.2) scale(0.96 1)" text-anchor="end" font-size="53.7">1</text>
<text transform="translate(936.3 417.6) scale(0.96 1)" text-anchor="end" font-size="53.7">0</text>
<text transform="translate(938.5 776.8) scale(0.96 1)" text-anchor="end" font-size="53.7">-1</text>
<text transform="translate(948.9 833.2) scale(0.96 1)" text-anchor="middle" font-size="53.7">0</text>
<text transform="translate(1126.97 833.2) scale(0.96 1)" text-anchor="middle" font-size="53.7">1</text>
<text transform="translate(1303.05 833.2) scale(0.96 1)" text-anchor="middle" font-size="53.7">2</text>
<text transform="translate(1480.12 833.2) scale(0.96 1)" text-anchor="middle" font-size="53.7">3</text>
<text transform="translate(1657.2 833.2) scale(0.96 1)" text-anchor="middle" font-size="53.7">4</text>
<text transform="translate(967 116.5) scale(0.96 1)" font-size="53.7">E(x)</text>
<text transform="translate(1584 118.1) scale(0.96 1)" font-size="53.7">B</text>
<text transform="translate(1485.6 758.9) scale(0.96 1)" font-size="53.7">x</text>
</g>
<path d="M78.4 49.83H88.27V57.8H78.4ZM95.49 49.83H104.69V57.8H95.49ZM78.4 788.33H88.27V796.3H78.4ZM95.49 788.33H104.69V796.3H95.49ZM236.03 826.23H245.9V834.2H236.03ZM253.12 826.23H262.32V834.2H253.12ZM314.26 525.63H324.13V533.6H314.26ZM331.35 525.63H340.55V533.6H331.35ZM910.4 50.23H920.27V58.2H910.4ZM927.49 50.23H936.69V58.2H927.49ZM911.9 769.83H921.77V777.8H911.9ZM928.99 769.83H938.19V777.8H928.99ZM1114.71 826.23H1124.58V834.2H1114.71ZM1131.8 826.23H1141V834.2H1131.8Z" fill="#fff"/>
</svg>
</body></html>
